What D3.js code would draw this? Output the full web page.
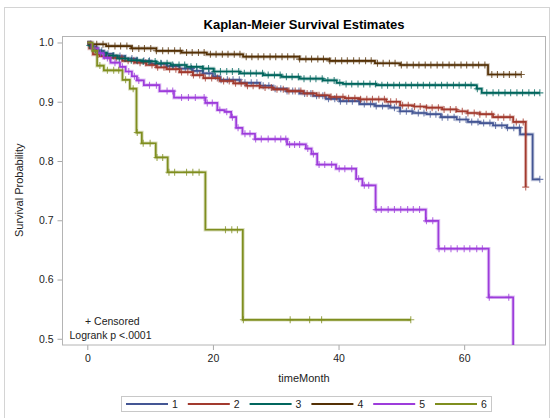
<!DOCTYPE html>
<html>
<head>
<meta charset="utf-8">
<script src="https://cdn.jsdelivr.net/npm/d3@7"></script>
<style>
  html, body { margin: 0; padding: 0; background: #fff; }
  svg { display: block; font-family: "Liberation Sans", Arial, sans-serif; }
</style>
</head>
<body>
<svg id="chart" width="553" height="418"></svg>
<script>
// Kaplan-Meier product-limit estimates by group (time in months)
const groupNames = ["1", "2", "3", "4", "5", "6"];
const groupColors = ["#445694", "#A23A2E", "#01665E", "#543005", "#9D3CDB", "#7F8E1F"];

const g1StepTime = [0.3,0.7,1.5,2.6,4.1,6.0,7.8,10.1,12.6,14.7,16.8,18.4,20.0,21.1,24.3,27.5,29.5,31.7,33.8,36.0,38.0,40.2,43.4,45.8,48.2,49.8,51.8,54.0,56.3,58.8,60.6,62.5,64.6,66.8,68.9,70.9];
const g1StepSurv = [0.997,0.992,0.986,0.981,0.977,0.973,0.969,0.964,0.960,0.956,0.952,0.948,0.943,0.937,0.932,0.927,0.922,0.918,0.914,0.910,0.905,0.901,0.896,0.893,0.890,0.884,0.881,0.879,0.874,0.870,0.866,0.864,0.860,0.856,0.845,0.769];
const g1Censor = [0.5,1.4,2.3,3.3,4.2,5.2,6.1,7.1,8.0,9.0,9.9,10.9,11.8,12.8,13.7,14.7,15.6,16.6,17.5,18.5,19.4,20.4,21.3,22.3,23.2,24.2,25.1,26.1,27.0,28.0,28.9,29.9,30.8,31.8,32.7,33.7,34.6,35.6,36.5,37.5,38.4,39.4,40.3,41.3,42.2,43.2,44.1,45.1,46.0,47.0,47.9,48.9,49.8,50.8,51.7,52.7,53.6,54.6,55.5,56.5,57.4,58.4,59.3,60.3,61.2,62.2,63.1,64.1,65.0,66.0,66.9,67.9,68.8,69.8,72.05];
const g1End = 72.05;

const g2StepTime = [0.3,0.9,2.0,3.6,5.6,7.5,9.4,11.0,12.6,14.7,16.8,18.5,21.1,23.3,25.3,27.5,29.6,31.9,34.4,36.5,38.6,41.0,43.4,47.6,49.8,52.0,54.0,56.5,58.8,60.5,62.5,64.6,67.8,69.8];
const g2StepSurv = [0.990,0.980,0.977,0.974,0.969,0.966,0.962,0.958,0.955,0.950,0.945,0.940,0.935,0.931,0.927,0.924,0.921,0.918,0.914,0.911,0.908,0.906,0.904,0.900,0.894,0.892,0.890,0.887,0.884,0.881,0.879,0.874,0.866,0.756];
const g2Censor = [0.8,1.7,2.7,3.6,4.6,5.5,6.5,7.4,8.4,9.3,10.3,11.2,12.2,13.1,14.1,15.0,16.0,16.9,17.9,18.8,19.8,20.7,21.7,22.6,23.6,24.5,25.5,26.4,27.4,28.3,29.3,30.2,31.2,32.1,33.1,34.0,35.0,35.9,36.9,37.8,38.8,39.7,40.7,41.6,42.6,43.5,44.5,45.4,46.4,47.3,48.3,49.2,50.2,51.1,52.1,53.0,54.0,54.9,55.9,56.8,57.8,58.7,59.7,60.6,61.6,62.5,63.5,64.4,65.4,66.3,67.3,68.3,69.4,69.8];
const g2End = 69.8;

const g3StepTime = [0.3,1.0,1.8,3.0,4.8,6.5,8.7,11.0,13.3,15.8,18.4,20.1,24.3,28.0,30.9,33.8,37.5,39.7,40.7,46.0,62.0,62.8];
const g3StepSurv = [0.995,0.988,0.983,0.978,0.973,0.970,0.968,0.965,0.962,0.959,0.956,0.951,0.948,0.945,0.942,0.939,0.936,0.932,0.930,0.928,0.922,0.915];
const g3Censor = [0.4,1.3,2.2,3.2,4.1,5.1,6.0,7.0,7.9,8.9,9.8,10.8,11.7,12.7,13.6,14.6,15.5,16.5,17.4,18.4,19.3,20.3,21.2,22.2,23.1,24.1,25.0,26.0,26.9,27.9,28.8,29.8,30.7,31.7,32.6,33.6,34.5,35.5,36.4,37.4,38.3,39.3,40.2,41.2,42.1,43.1,44.0,45.0,45.9,46.9,47.8,48.8,49.7,50.7,51.6,52.6,53.5,54.5,55.4,56.4,57.3,58.3,59.2,60.2,61.1,62.1,63.6,64.6,65.5,66.5,67.4,68.4,69.3,70.3,71.2,72.05];
const g3End = 72.05;

const g4StepTime = [0.5,3.0,7.0,11.0,15.0,19.0,24.8,33.8,38.6,45.8,49.8,63.8];
const g4StepSurv = [0.997,0.994,0.990,0.986,0.983,0.980,0.976,0.972,0.969,0.965,0.962,0.946];
const g4Censor = [0.6,1.5,2.5,3.4,4.4,5.3,6.3,7.2,8.2,9.1,10.1,11.0,12.0,12.9,13.9,14.8,15.8,16.7,17.7,18.6,19.6,20.5,21.5,22.4,23.4,24.3,25.3,26.2,27.2,28.1,29.1,30.0,31.0,31.9,32.9,33.8,34.8,35.7,36.7,37.6,38.6,39.5,40.5,41.4,42.4,43.3,44.3,45.2,46.2,47.1,48.1,49.0,50.0,50.9,51.9,52.8,53.8,54.7,55.7,56.6,57.6,58.5,59.5,60.4,61.4,62.3,63.3,64.4,65.3,66.3,67.2,68.2,69.1];
const g4End = 69.1;

const g5StepTime = [0.7,1.7,2.6,3.7,5.2,6.1,7.1,7.9,9.0,11.5,13.8,18.8,20.7,21.9,22.9,23.7,24.7,26.7,31.8,34.8,35.7,36.6,39.6,42.8,43.8,45.9,53.9,55.9,63.9,67.8];
const g5StepSurv = [0.990,0.982,0.974,0.966,0.959,0.951,0.943,0.936,0.928,0.918,0.907,0.898,0.886,0.883,0.874,0.856,0.846,0.837,0.828,0.821,0.812,0.794,0.787,0.770,0.759,0.718,0.699,0.652,0.570,0.400];
const g5Censor = [1.2,2.1,3.2,4.4,5.6,6.6,7.5,8.2,9.9,11.0,12.7,13.6,15.0,16.1,17.2,18.6,19.1,19.9,21.1,22.2,23.1,24.0,25.1,25.9,26.8,27.7,28.8,29.9,30.8,31.6,32.2,33.0,33.8,35.1,36.0,36.9,37.8,38.9,40.1,41.0,42.1,43.2,44.1,44.8,46.0,46.8,47.9,48.9,49.9,51.0,51.9,52.9,54.0,55.0,56.0,56.9,57.9,58.9,60.0,60.9,62.0,62.9,64.0,67.1];
const g5End = 67.8;

const g6StepTime = [0.83,1.56,2.63,5.6,6.77,7.83,8.68,10.9,12.8,18.8,24.76];
const g6StepSurv = [0.986,0.961,0.953,0.937,0.922,0.848,0.830,0.806,0.781,0.684,0.532];
const g6Censor = [1.2,2.0,3.2,4.2,5.0,6.1,7.3,7.95,8.9,10.0,11.1,12.0,13.0,13.9,15.8,16.8,17.8,22.0,23.0,23.9,24.85,32.3,35.4,37.3,51.5];
const g6End = 51.5;

const xTicks = [0, 20, 40, 60];
const yTicks = [0.5, 0.6, 0.7, 0.8, 0.9, 1.0];

const groups = [
  { name: groupNames[0], color: groupColors[0], t: g1StepTime, s: g1StepSurv, c: g1Censor, end: g1End },
  { name: groupNames[1], color: groupColors[1], t: g2StepTime, s: g2StepSurv, c: g2Censor, end: g2End },
  { name: groupNames[2], color: groupColors[2], t: g3StepTime, s: g3StepSurv, c: g3Censor, end: g3End },
  { name: groupNames[3], color: groupColors[3], t: g4StepTime, s: g4StepSurv, c: g4Censor, end: g4End },
  { name: groupNames[4], color: groupColors[4], t: g5StepTime, s: g5StepSurv, c: g5Censor, end: g5End },
  { name: groupNames[5], color: groupColors[5], t: g6StepTime, s: g6StepSurv, c: g6Censor, end: g6End }
];

const svg = d3.select("#chart");
const plot = { left: 62.5, right: 545.5, top: 36.5, bottom: 345 };

// outer graph frame
svg.append("rect")
  .attr("x", 4.5).attr("y", 7.5).attr("width", 545).attr("height", 430)
  .attr("fill", "none").attr("stroke", "#d4d4d4");

const x = d3.scaleLinear().domain([-3.95, 72.95]).range([plot.left, plot.right]);
const y = d3.scaleLinear().domain([0.4895, 1.0101]).range([plot.bottom, plot.top]);

// title
svg.append("text")
  .attr("x", (plot.left + plot.right) / 2).attr("y", 28.5)
  .attr("text-anchor", "middle").attr("font-size", 13).attr("font-weight", "bold")
  .attr("fill", "#000").text("Kaplan-Meier Survival Estimates");

// axes
const xAxis = svg.append("g").attr("transform", `translate(0,${plot.bottom})`)
  .call(d3.axisBottom(x).tickValues(xTicks).tickSize(5).tickPadding(5).tickFormat(d3.format("d")));
const yAxis = svg.append("g").attr("transform", `translate(${plot.left},0)`)
  .call(d3.axisLeft(y).tickValues(yTicks).tickSize(5).tickPadding(4).tickFormat(d3.format(".1f")));
[xAxis, yAxis].forEach(g => {
  g.select(".domain").remove();
  g.selectAll(".tick line").attr("stroke", "#a8a8a8");
  g.selectAll(".tick text").attr("font-size", 10.5).attr("fill", "#222")
    .attr("font-family", "'Liberation Sans', Arial, sans-serif");
});

// plot wall border
svg.append("rect")
  .attr("x", plot.left).attr("y", plot.top)
  .attr("width", plot.right - plot.left).attr("height", plot.bottom - plot.top)
  .attr("fill", "none").attr("stroke", "#b4b4b4");

// axis labels
svg.append("text")
  .attr("x", (plot.left + plot.right) / 2).attr("y", 382)
  .attr("text-anchor", "middle").attr("font-size", 11).attr("fill", "#222")
  .text("timeMonth");
svg.append("text")
  .attr("transform", `translate(23,${(plot.top + plot.bottom) / 2 - 0.5}) rotate(-90)`)
  .attr("text-anchor", "middle").attr("font-size", 11).attr("fill", "#222")
  .text("Survival Probability");

svg.append("clipPath").attr("id", "wall")
  .append("rect").attr("x", plot.left).attr("y", plot.top)
  .attr("width", plot.right - plot.left).attr("height", plot.bottom - plot.top);

const curveLayer = svg.append("g").attr("clip-path", "url(#wall)");
const line = d3.line().x(d => x(d[0])).y(d => y(d[1])).curve(d3.curveStepAfter);

function survivalAt(g, time) {
  let v = 1;
  for (let i = 0; i < g.t.length; i++) if (g.t[i] <= time) v = g.s[i];
  return v;
}

groups.forEach(g => {
  const pts = [[0, 1]];
  g.t.forEach((t, i) => pts.push([t, g.s[i]]));
  pts.push([g.end, g.s[g.s.length - 1]]);
  const layer = curveLayer.append("g");
  layer.append("path").attr("d", line(pts)).attr("fill", "none")
    .attr("stroke", g.color).attr("stroke-opacity", 0.3).attr("stroke-width", 3.6);
  layer.append("path").attr("d", line(pts)).attr("fill", "none")
    .attr("stroke", g.color).attr("stroke-width", 1.7);
  // censored observations
  layer.selectAll("path.cens").data(g.c).enter().append("path")
    .attr("class", "cens")
    .attr("d", c => {
      const cx = x(c), cy = y(survivalAt(g, c));
      return `M${cx - 3.5},${cy}H${cx + 3.5}M${cx},${cy - 3.5}V${cy + 3.5}`;
    })
    .attr("stroke", g.color).attr("stroke-opacity", 0.75).attr("stroke-width", 1.1);
});

// inset annotations
svg.append("text").attr("x", 85).attr("y", 324.5).attr("font-size", 10.5).attr("fill", "#222")
  .text("+ Censored");
svg.append("text").attr("x", 69.5).attr("y", 338.5).attr("font-size", 10.5).attr("fill", "#222")
  .text("Logrank p <.0001");

// legend
const legend = svg.append("g");
legend.append("rect").attr("x", 121.5).attr("y", 396.5).attr("width", 370).attr("height", 15)
  .attr("fill", "#fff").attr("stroke", "#c8c8c8");
groups.forEach((g, i) => {
  const x0 = 126 + i * 61.8;
  legend.append("line").attr("x1", x0).attr("x2", x0 + 42).attr("y1", 404).attr("y2", 404)
    .attr("stroke", g.color).attr("stroke-width", 2);
  legend.append("text").attr("x", x0 + 46).attr("y", 407.8).attr("font-size", 10.5)
    .attr("fill", "#222").text(g.name);
});
</script>
</body>
</html>
